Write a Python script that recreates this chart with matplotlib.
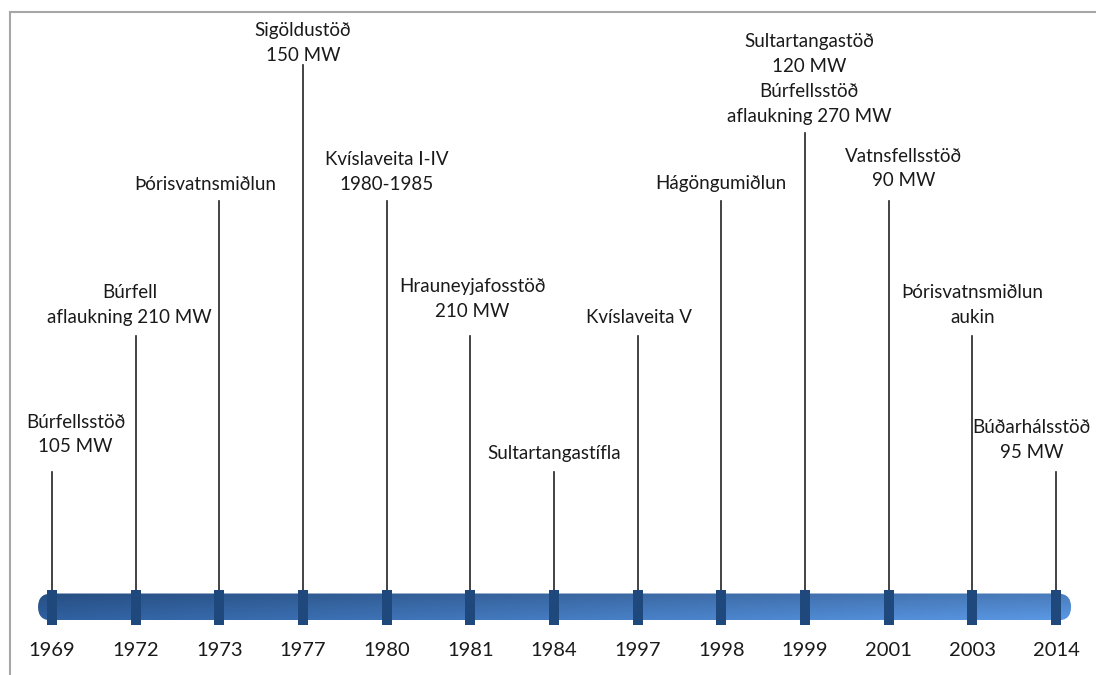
import matplotlib.pyplot as plt
import numpy as np
from matplotlib.patches import FancyBboxPatch, Rectangle
from matplotlib.lines import Line2D

# --- Dados ---
years = ['1969', '1972', '1973', '1977', '1980', '1981', '1984',
         '1997', '1998', '1999', '2001', '2003', '2014']
events = ['Búrfellsstöð\n105 MW',
          'Búrfell\naflaukning 210 MW',
          'Þórisvatnsmiðlun',
          'Sigöldustöð\n150 MW',
          'Kvíslaveita I-IV\n1980-1985',
          'Hrauneyjafosstöð\n210 MW',
          'Sultartangastífla',
          'Kvíslaveita V',
          'Hágöngumiðlun',
          'Sultartangastöð\n120 MW\nBúrfellsstöð\naflaukning 270 MW',
          'Vatnsfellsstöð\n90 MW',
          'Þórisvatnsmiðlun\naukin',
          'Búðarhálsstöð\n95 MW']
stem_level = [1, 2, 3, 4, 3, 2, 1, 2, 3, 3.5, 3, 2, 1]

# --- Layout ---
LEVEL_PX = 135.5
label_dx = [0.28, -0.07, -0.17, 0, 0, 0.02, 0, 0.02, 0, 0.05, 0.18, 0, -0.29]
label_dy = [16, 10, 8, 1, 8, 16, 10, 10, 8, 8, 11, 10, 11]  # folga em px acima da haste
FONT = 'Lato'

x = np.arange(len(years))
heights = np.array(stem_level) * LEVEL_PX

fig = plt.figure(figsize=(10.96, 6.75), dpi=100)
ax = fig.add_axes([0, 0, 1, 1])
ax.set_xlim(-0.6215, 12.478)
ax.set_ylim(-68, 607)
ax.axis('off')

# moldura cinza (esquerda e topo)
fig.add_artist(Line2D([10/1096, 10/1096], [0, 1 - 12/675], color='#a6a6a6', lw=1.5))
fig.add_artist(Line2D([10/1096, 1], [1 - 12/675, 1 - 12/675], color='#a6a6a6', lw=1.5))

# barra com gradiente
px = 83.67
x0, x1 = -0.167, 12.18
half = 13.5
bar = FancyBboxPatch((x0, -half), x1 - x0, 2 * half,
                     boxstyle='round,pad=0,rounding_size=%f' % (half / px),
                     mutation_aspect=px, facecolor='none', edgecolor='none')
ax.add_patch(bar)
c_left = np.array([0x2c, 0x59, 0x94]) / 255
c_right = np.array([0x54, 0x8d, 0xd4]) / 255
gx = np.linspace(0, 1, 256)
gy = np.linspace(0, 1, 32)
GX, GY = np.meshgrid(gx, gy)
img = c_left[None, None, :] * (1 - GX[..., None]) + c_right[None, None, :] * GX[..., None]
# sombra vertical: topo mais escuro, base mais clara
shade = 0.88 + 0.2 * GY[..., None]
img = np.clip(img * shade, 0, 1)
im = ax.imshow(img, extent=(x0, x1, -half, half), origin='upper', aspect='auto', zorder=2)
im.set_clip_path(bar)

# hastes, marcadores e textos
for i in range(len(years)):
    ax.plot([x[i], x[i]], [14, heights[i]], color='#222222', lw=1.2, zorder=1)
    ax.add_patch(Rectangle((x[i] - 0.06, -17.5), 0.12, 35, facecolor='#1f497d',
                           edgecolor='none', zorder=3))
    ax.text(x[i], -43, years[i], ha='center', va='center', fontsize=14.5,
            family=FONT, color='#1a1a1a')
    ax.text(x[i] + label_dx[i], heights[i] + label_dy[i], events[i], ha='center',
            va='bottom', fontsize=13.5, family=FONT, color='#1a1a1a', linespacing=1.57)

fig.savefig('out.png', dpi=100)
